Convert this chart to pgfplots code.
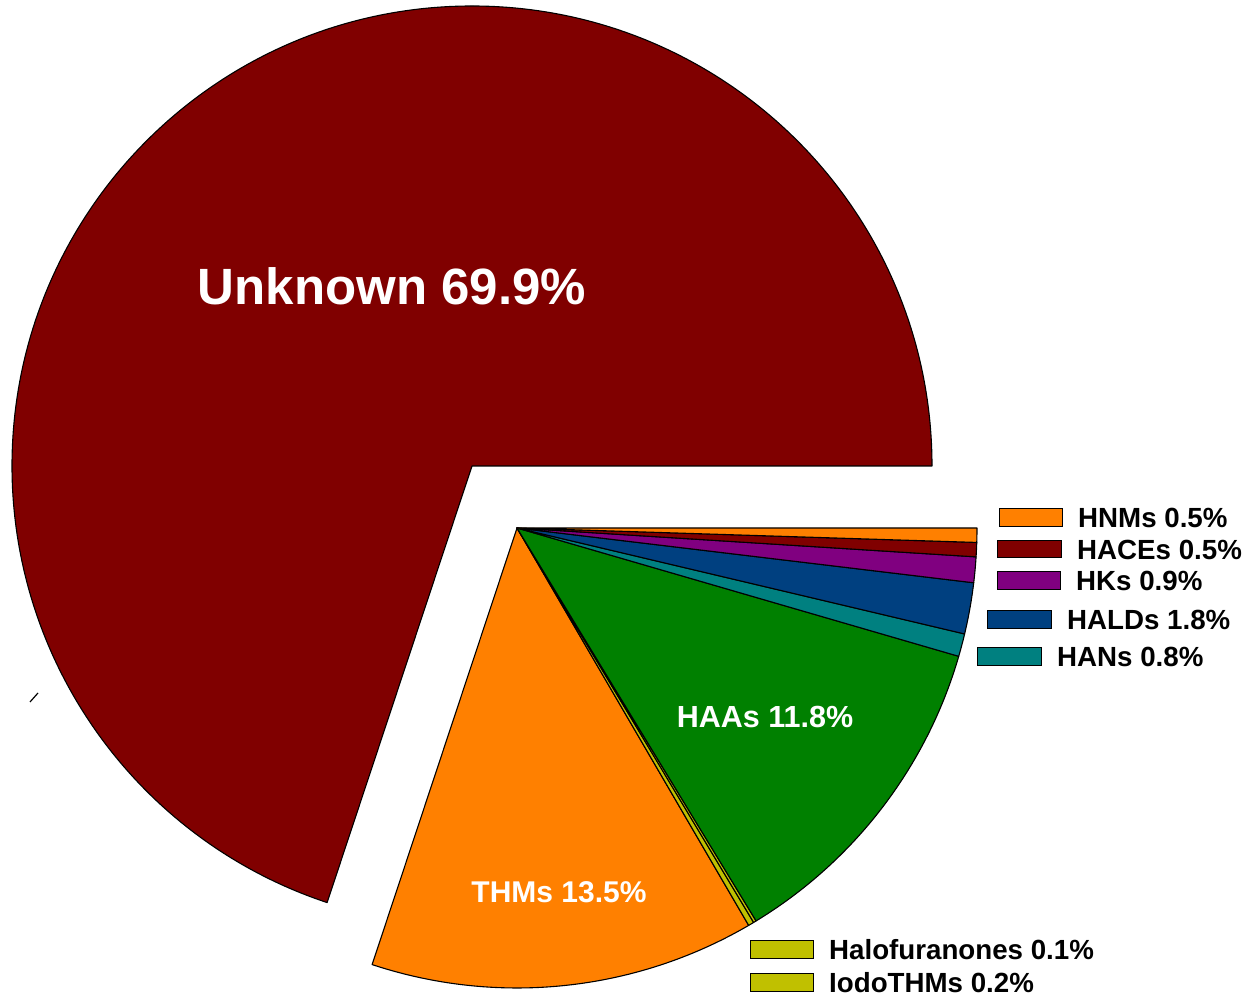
\documentclass[border=0pt]{standalone}
\usepackage{pgfplots}
\pgfplotsset{compat=1.18}
\usepackage{fontspec}
\setmainfont{Liberation Sans}
\definecolor{cDred}{RGB}{128,0,0}
\definecolor{cOrange}{RGB}{255,128,0}
\definecolor{cGreen}{RGB}{0,128,0}
\definecolor{cTeal}{RGB}{0,128,128}
\definecolor{cNavy}{RGB}{0,64,128}
\definecolor{cPurple}{RGB}{128,0,128}
\definecolor{cYellow}{RGB}{192,192,0}
% slice: color, start (%), share (%), centre x, centre y
\newcommand\slice[5]{\filldraw[fill=#1,draw=black,line width=1.1pt,line join=round]
  (axis cs:#4,#5) -- +({#2*3.6}:460pt) arc[start angle={#2*3.6}, delta angle={#3*3.6}, radius=460pt] -- cycle;}
\newcommand\lbox[6]{\filldraw[fill=#1,draw=black,line width=1pt] (axis cs:#2,#3) rectangle (axis cs:#4,#5);
  \node[anchor=base west,inner sep=0pt,font=\fontsize{27.7}{30}\selectfont\bfseries] at (axis cs:#4+16,{(#3+#5)/2-10}) {#6};}
\begin{document}
\begin{tikzpicture}
\begin{axis}[hide axis, scale only axis, width=1245pt, height=998pt,
  xmin=0, xmax=1245, ymin=0, ymax=998, clip=false]
\path (axis cs:0,0) rectangle (axis cs:1245,998);
% exploded slice
\slice{cDred}{0}{69.9}{472}{532}
% rest of the pie, counter-clockwise
\slice{cOrange}{69.9}{13.5}{517}{470}
\slice{cYellow}{83.4}{0.2}{517}{470}
\slice{cYellow}{83.6}{0.1}{517}{470}
\slice{cGreen}{83.7}{11.8}{517}{470}
\slice{cTeal}{95.5}{0.8}{517}{470}
\slice{cNavy}{96.3}{1.8}{517}{470}
\slice{cPurple}{98.1}{0.9}{517}{470}
\slice{cDred}{99.0}{0.5}{517}{470}
\slice{cOrange}{99.5}{0.5}{517}{470}
\addplot[black, line width=1.2pt] coordinates {(30,296) (38,305)};
% labels inside
\node[text=white,font=\fontsize{51}{55}\selectfont\bfseries,inner sep=0pt,anchor=base] at (axis cs:392,693) {Unknown 69.9\%};
\node[text=white,font=\fontsize{30.5}{33}\selectfont\bfseries,inner sep=0pt,anchor=base] at (axis cs:765,270) {HAAs 11.8\%};
\node[text=white,font=\fontsize{30}{33}\selectfont\bfseries,inner sep=0pt,anchor=base] at (axis cs:559,95) {THMs 13.5\%};
% legend-like labels
\lbox{cOrange}{999}{471}{1062}{489}{HNMs 0.5\%}
\lbox{cDred}{997}{440}{1061}{457}{HACEs 0.5\%}
\lbox{cPurple}{997}{408}{1060}{426}{HKs 0.9\%}
\lbox{cNavy}{987}{369}{1051}{387}{HALDs 1.8\%}
\lbox{cTeal}{977}{332}{1041}{350}{HANs 0.8\%}
\lbox{cYellow}{750}{39}{813}{57}{Halofuranones 0.1\%}
\lbox{cYellow}{750}{6}{813}{24}{IodoTHMs 0.2\%}
\end{axis}
\end{tikzpicture}
\end{document}
